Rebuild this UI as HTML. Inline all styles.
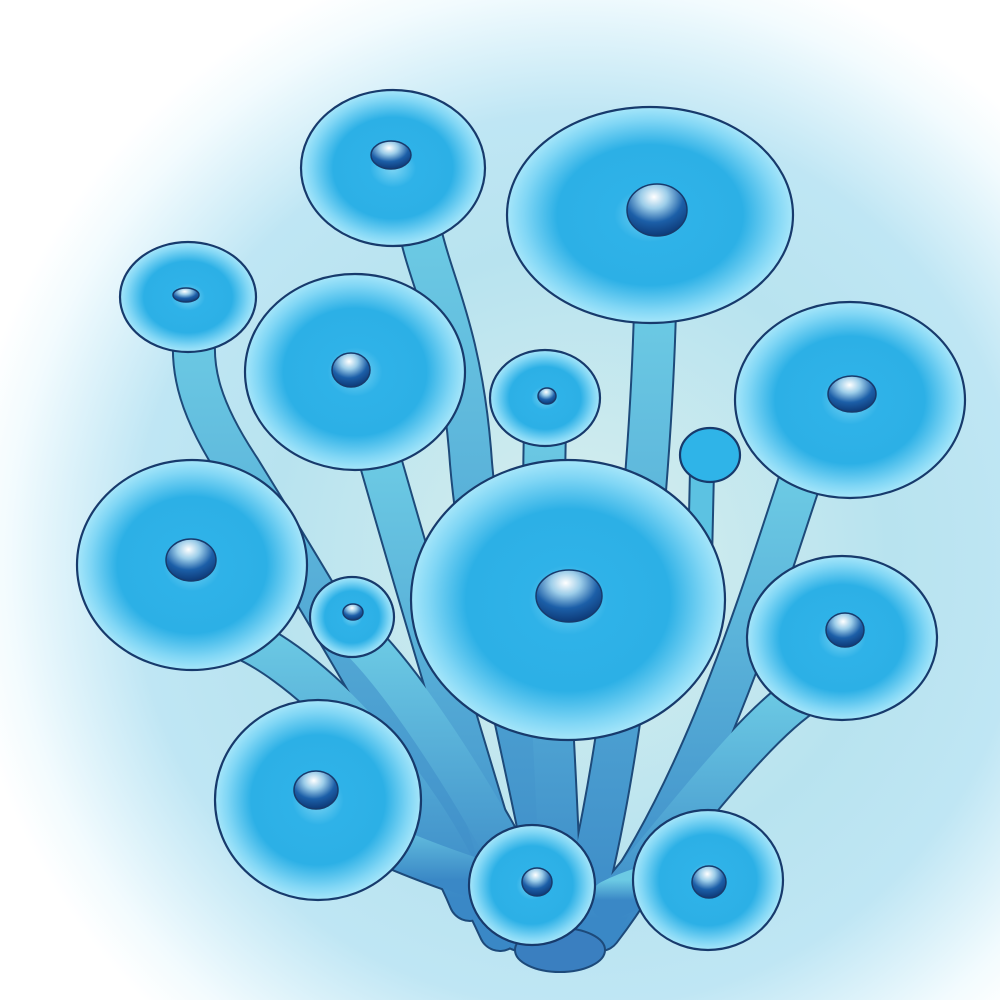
<!DOCTYPE html>
<html>
<head>
<meta charset="utf-8">
<style>
html,body{margin:0;padding:0;background:#fff;}
svg{display:block;}
</style>
</head>
<body>
<svg width="1000" height="1000" viewBox="0 0 1000 1000" xmlns="http://www.w3.org/2000/svg">
<defs>
  <radialGradient id="bg" cx="580" cy="560" r="620" gradientUnits="userSpaceOnUse">
    <stop offset="0" stop-color="#d8efee"/>
    <stop offset="0.5" stop-color="#b8e3ef"/>
    <stop offset="0.72" stop-color="#bfe6f4"/>
    <stop offset="0.92" stop-color="#f2fbfe"/>
    <stop offset="1" stop-color="#ffffff"/>
  </radialGradient>
  <radialGradient id="cap" cx="0.5" cy="0.5" r="0.5">
    <stop offset="0" stop-color="#7fd6f5"/>
    <stop offset="0.25" stop-color="#2fb2e8"/>
    <stop offset="0.65" stop-color="#2cb0e6"/>
    <stop offset="0.88" stop-color="#80d6f5"/>
    <stop offset="1" stop-color="#a6e6fa"/>
  </radialGradient>
  <radialGradient id="eye" cx="0.45" cy="0.25" r="0.75">
    <stop offset="0" stop-color="#ffffff"/>
    <stop offset="0.3" stop-color="#9ccde9"/>
    <stop offset="0.65" stop-color="#1c5fa8"/>
    <stop offset="1" stop-color="#0d3a78"/>
  </radialGradient>
  <linearGradient id="stalk" x1="0" y1="0" x2="0" y2="1">
    <stop offset="0" stop-color="#6ccae4"/>
    <stop offset="1" stop-color="#3a88c6"/>
  </linearGradient>
</defs>
<rect x="0" y="0" width="1000" height="1000" fill="url(#bg)"/>

<g fill="none" stroke-linecap="round">
  <g stroke="#1d4a7a" stroke-width="44">
    <path d="M560 950 C540 800 480 600 470 450 C460 330 430 280 420 230"/>
    <path d="M570 950 C620 800 650 500 655 310"/>
    <path d="M500 930 C440 800 320 600 240 470 C200 410 190 370 195 330"/>
    <path d="M520 930 C480 800 420 600 380 460"/>
    <path d="M560 930 C560 800 540 600 545 430"/>
    <path d="M600 930 C700 800 760 600 800 480"/>
    <path d="M470 900 C420 780 300 650 220 630"/>
    <path d="M530 900 C470 780 400 680 360 640"/>
    <path d="M600 920 C700 800 760 720 810 690"/>
    <path d="M480 880 C420 860 370 840 340 820"/>
    <path d="M610 900 C650 880 680 880 700 880"/>
  </g>
  <g stroke="url(#stalk)" stroke-width="40">
    <path d="M560 950 C540 800 480 600 470 450 C460 330 430 280 420 230"/>
    <path d="M570 950 C620 800 650 500 655 310"/>
    <path d="M500 930 C440 800 320 600 240 470 C200 410 190 370 195 330"/>
    <path d="M520 930 C480 800 420 600 380 460"/>
    <path d="M560 930 C560 800 540 600 545 430"/>
    <path d="M600 930 C700 800 760 600 800 480"/>
    <path d="M470 900 C420 780 300 650 220 630"/>
    <path d="M530 900 C470 780 400 680 360 640"/>
    <path d="M600 920 C700 800 760 720 810 690"/>
    <path d="M480 880 C420 860 370 840 340 820"/>
    <path d="M610 900 C650 880 680 880 700 880"/>
  </g>
  <path d="M700 560 L702 470" stroke="#1d4a7a" stroke-width="26"/>
  <path d="M700 560 L702 470" stroke="#5cc2e2" stroke-width="22"/>
  <ellipse cx="560" cy="950" rx="45" ry="22" fill="#3a7fc0" stroke="#1d4a7a" stroke-width="2"/>
</g>

<g stroke="#173a6c" stroke-width="2.2">
  <g><ellipse cx="393" cy="168" rx="92" ry="78" fill="url(#cap)"/><ellipse cx="391" cy="155" rx="20" ry="14" fill="url(#eye)" stroke-width="1.5"/></g>
  <g><ellipse cx="650" cy="215" rx="143" ry="108" fill="url(#cap)"/><ellipse cx="657" cy="210" rx="30" ry="26" fill="url(#eye)" stroke-width="1.5"/></g>
  <g><ellipse cx="188" cy="297" rx="68" ry="55" fill="url(#cap)"/><ellipse cx="186" cy="295" rx="13" ry="7" fill="url(#eye)" stroke-width="1.5"/></g>
  <g><ellipse cx="355" cy="372" rx="110" ry="98" fill="url(#cap)"/><ellipse cx="351" cy="370" rx="19" ry="17" fill="url(#eye)" stroke-width="1.5"/></g>
  <g><ellipse cx="545" cy="398" rx="55" ry="48" fill="url(#cap)"/><ellipse cx="547" cy="396" rx="9" ry="8" fill="url(#eye)" stroke-width="1.5"/></g>
  <g><ellipse cx="850" cy="400" rx="115" ry="98" fill="url(#cap)"/><ellipse cx="852" cy="394" rx="24" ry="18" fill="url(#eye)" stroke-width="1.5"/></g>
  <g><ellipse cx="710" cy="455" rx="30" ry="27" fill="#2fb4e8"/></g>
  <g><ellipse cx="192" cy="565" rx="115" ry="105" fill="url(#cap)"/><ellipse cx="191" cy="560" rx="25" ry="21" fill="url(#eye)" stroke-width="1.5"/></g>
  <g><ellipse cx="352" cy="617" rx="42" ry="40" fill="url(#cap)"/><ellipse cx="353" cy="612" rx="10" ry="8" fill="url(#eye)" stroke-width="1.5"/></g>
  <g><ellipse cx="568" cy="600" rx="157" ry="140" fill="url(#cap)"/><ellipse cx="569" cy="596" rx="33" ry="26" fill="url(#eye)" stroke-width="1.5"/></g>
  <g><ellipse cx="842" cy="638" rx="95" ry="82" fill="url(#cap)"/><ellipse cx="845" cy="630" rx="19" ry="17" fill="url(#eye)" stroke-width="1.5"/></g>
  <g><ellipse cx="318" cy="800" rx="103" ry="100" fill="url(#cap)"/><ellipse cx="316" cy="790" rx="22" ry="19" fill="url(#eye)" stroke-width="1.5"/></g>
  <g><ellipse cx="532" cy="885" rx="63" ry="60" fill="url(#cap)"/><ellipse cx="537" cy="882" rx="15" ry="14" fill="url(#eye)" stroke-width="1.5"/></g>
  <g><ellipse cx="708" cy="880" rx="75" ry="70" fill="url(#cap)"/><ellipse cx="709" cy="882" rx="17" ry="16" fill="url(#eye)" stroke-width="1.5"/></g>
</g>
</svg>
</body>
</html>
